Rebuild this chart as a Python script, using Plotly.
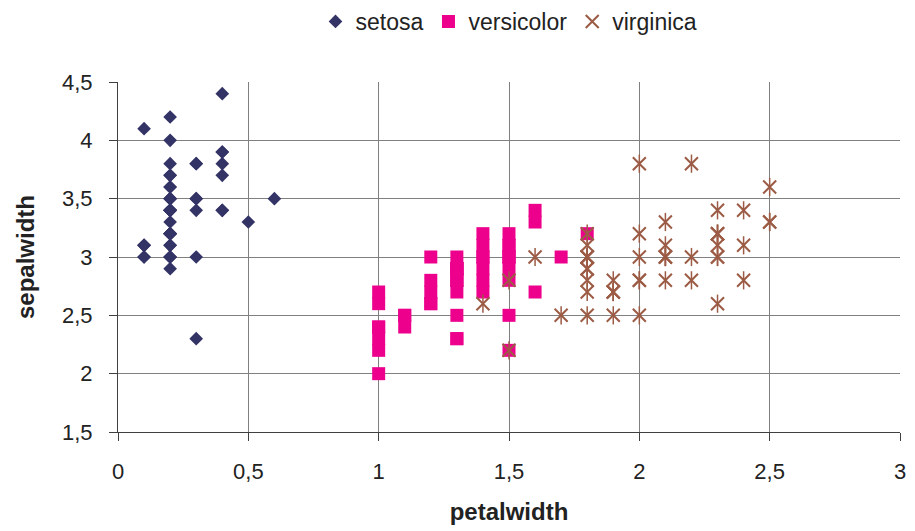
import plotly.graph_objects as go

setosa_petalwidth = [0.2,0.2,0.2,0.2,0.2,0.4,0.3,0.2,0.2,0.1,0.2,0.2,0.1,0.1,0.2,0.4,0.4,0.3,0.3,0.3,
                     0.2,0.4,0.2,0.5,0.2,0.2,0.4,0.2,0.2,0.2,0.2,0.4,0.1,0.2,0.1,0.2,0.2,0.1,0.2,0.2,
                     0.3,0.3,0.2,0.6,0.4,0.3,0.2,0.2,0.2,0.2]
setosa_sepalwidth = [3.5,3.0,3.2,3.1,3.6,3.9,3.4,3.4,2.9,3.1,3.7,3.4,3.0,3.0,4.0,4.4,3.9,3.5,3.8,3.8,
                     3.4,3.7,3.6,3.3,3.4,3.0,3.4,3.5,3.4,3.2,3.1,3.4,4.1,4.2,3.1,3.2,3.5,3.1,3.0,3.4,
                     3.5,2.3,3.2,3.5,3.8,3.0,3.8,3.2,3.7,3.3]

versicolor_petalwidth = [1.4,1.5,1.5,1.3,1.5,1.3,1.6,1.0,1.3,1.4,1.0,1.5,1.0,1.4,1.3,1.4,1.5,1.0,1.5,1.1,
                         1.8,1.3,1.5,1.2,1.3,1.4,1.4,1.7,1.5,1.0,1.1,1.0,1.2,1.6,1.5,1.6,1.5,1.3,1.3,1.3,
                         1.2,1.4,1.2,1.0,1.3,1.2,1.3,1.3,1.1,1.3]
versicolor_sepalwidth = [3.2,3.2,3.1,2.3,2.8,2.8,3.3,2.4,2.9,2.7,2.0,3.0,2.2,2.9,2.9,3.1,3.0,2.7,2.2,2.5,
                         3.2,2.8,2.5,2.8,2.9,3.0,2.8,3.0,2.9,2.6,2.4,2.4,2.7,2.7,3.0,3.4,3.1,2.3,3.0,2.5,
                         2.6,3.0,2.6,2.3,2.7,3.0,2.9,2.9,2.5,2.8]

virginica_petalwidth = [2.5,1.9,2.1,1.8,2.2,2.1,1.7,1.8,1.8,2.5,2.0,1.9,2.1,2.0,2.4,2.3,1.8,2.2,2.3,1.5,
                        2.3,2.0,2.0,1.8,2.1,1.8,1.8,1.8,2.1,1.6,1.9,2.0,2.2,1.5,1.4,2.3,2.4,1.8,1.8,2.1,
                        2.4,2.3,1.9,2.3,2.5,2.3,1.9,2.0,2.3,1.8]
virginica_sepalwidth = [3.3,2.7,3.0,2.9,3.0,3.0,2.5,2.9,2.5,3.6,3.2,2.7,3.0,2.5,2.8,3.2,3.0,3.8,2.6,2.2,
                        3.2,2.8,2.8,2.7,3.3,3.2,2.8,3.0,2.8,3.0,2.8,3.8,2.8,2.8,2.6,3.0,3.4,3.1,3.0,3.1,
                        3.1,3.1,2.7,3.2,3.3,3.0,2.5,3.0,3.4,3.0]

x_ticks = [0, 0.5, 1, 1.5, 2, 2.5, 3]
y_ticks = [1.5, 2, 2.5, 3, 3.5, 4, 4.5]

C_SET = "#333366"
C_VER = "#EC008C"
C_VIR = "#9C5B45"

fig = go.Figure()
fig.add_trace(go.Scatter(x=setosa_petalwidth, y=setosa_sepalwidth, mode="markers", name="setosa",
                         marker=dict(symbol="diamond", size=10.5, color=C_SET, line=dict(width=0))))
fig.add_trace(go.Scatter(x=versicolor_petalwidth, y=versicolor_sepalwidth, mode="markers", name="versicolor",
                         marker=dict(symbol="square", size=13, color=C_VER, line=dict(width=0))))
fig.add_trace(go.Scatter(x=virginica_petalwidth, y=virginica_sepalwidth, mode="markers", name="virginica",
                         legendgroup="vir",
                         marker=dict(symbol="x-thin-open", size=13, color=C_VIR, line=dict(width=2, color=C_VIR))))
fig.add_trace(go.Scatter(x=virginica_petalwidth, y=virginica_sepalwidth, mode="markers", name="virginica",
                         legendgroup="vir", showlegend=False,
                         marker=dict(symbol="line-ns-open", size=13, color=C_VIR, line=dict(width=1.5, color=C_VIR))))

fig.update_layout(
    width=915, height=531,
    margin=dict(l=118, r=9, t=82, b=99),
    paper_bgcolor="white", plot_bgcolor="white",
    separators=",.",
    font=dict(family="Liberation Sans, Arial, sans-serif", size=22, color="#222222"),
    showlegend=True,
    legend=dict(orientation="h", x=0.5, xanchor="center", y=1.0, yanchor="top",
                yref="container", font=dict(size=23), itemwidth=30, tracegroupgap=0,
                bgcolor="rgba(0,0,0,0)"),
    xaxis=dict(range=[0, 3], tickvals=x_ticks, showgrid=True, gridcolor="#808080", gridwidth=1,
               zeroline=False, showline=True, linecolor="#404040", linewidth=1,
               ticks="outside", ticklen=8, tickcolor="#404040", ticklabelstandoff=12,
               tickfont=dict(size=22),
               title=dict(text="<b>petalwidth</b>", font=dict(size=24), standoff=19)),
    yaxis=dict(range=[1.5, 4.5], tickvals=y_ticks, showgrid=True, gridcolor="#808080", gridwidth=1,
               zeroline=False, showline=True, linecolor="#404040", linewidth=1,
               ticks="outside", ticklen=8, tickcolor="#404040", ticklabelstandoff=12,
               tickfont=dict(size=22),
               title=dict(text="<b>sepalwidth</b>", font=dict(size=24), standoff=20)),
)

fig.write_html("out.html")
